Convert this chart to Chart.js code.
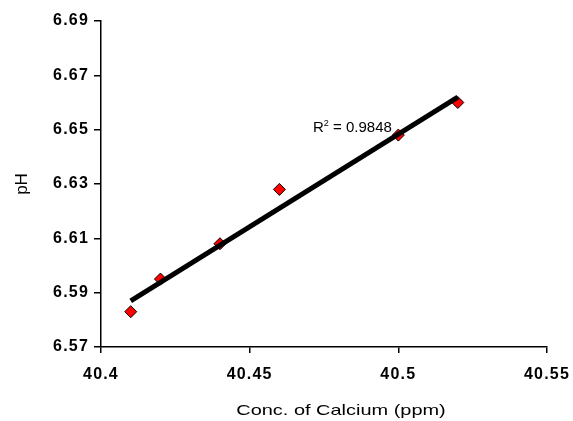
<!DOCTYPE html>
<html>
<head>
<meta charset="utf-8">
<script src="https://cdn.jsdelivr.net/npm/chart.js@4"></script>
<style>
  body { margin: 0; background: #fff; }
</style>
</head>
<body>
<canvas id="chart" width="573" height="421"></canvas>
<script>
const calcium = [40.41, 40.42, 40.44, 40.46, 40.50, 40.52];
const ph = [6.583, 6.595, 6.608, 6.628, 6.648, 6.660];
// trendline ends as drawn in the picture
const trendX = [40.41, 40.52];
const trendY = [6.587, 6.662];
const xTicks = [40.4, 40.45, 40.5, 40.55];
const yTicks = [6.57, 6.59, 6.61, 6.63, 6.65, 6.67, 6.69];
const rSquared = '0.9848';
const labelAt = { x: 40.4713, y: 6.6491 };

const FONT = "'Liberation Sans', Arial, sans-serif";

const annotations = {
  id: 'annotations',
  beforeDraw(chart) {
    // tick labels in the picture are spaced out a bit
    chart.ctx.letterSpacing = '1.2px';
  },
  afterDatasetsDraw(chart) {
    const { ctx, scales } = chart;
    const x = scales.x.getPixelForValue(labelAt.x);
    const y = scales.y.getPixelForValue(labelAt.y);
    ctx.save();
    ctx.letterSpacing = '0px';
    ctx.fillStyle = '#000';
    ctx.textBaseline = 'alphabetic';
    ctx.textAlign = 'left';
    ctx.font = '15px ' + FONT;
    ctx.fillText('R', x, y);
    let w = ctx.measureText('R').width;
    ctx.font = '9px ' + FONT;
    ctx.fillText('2', x + w, y - 6);
    w += ctx.measureText('2').width;
    ctx.font = '15px ' + FONT;
    ctx.fillText(' = ' + rSquared, x + w, y);
    ctx.restore();
  },
  afterDraw(chart) {
    const { ctx } = chart;
    ctx.save();
    ctx.letterSpacing = '0px';
    ctx.fillStyle = '#000';
    ctx.textAlign = 'center';
    ctx.textBaseline = 'middle';
    ctx.font = '15px ' + FONT;
    ctx.save();
    ctx.translate(341, 411);
    ctx.scale(1.33, 1);
    ctx.fillText('Conc. of Calcium (ppm)', 0, 0);
    ctx.restore();
    ctx.font = '17px ' + FONT;
    ctx.translate(22, 184);
    ctx.rotate(-Math.PI / 2);
    ctx.fillText('pH', 0, 0);
    ctx.restore();
    ctx.letterSpacing = '0px';
  }
};

new Chart(document.getElementById('chart'), {
  type: 'scatter',
  data: {
    datasets: [
      {
        label: 'Trend',
        type: 'line',
        data: trendX.map((x, i) => ({ x: x, y: trendY[i] })),
        borderColor: '#000',
        borderWidth: 5,
        pointRadius: 0,
        fill: false,
        order: 0
      },
      {
        label: 'pH',
        data: calcium.map((x, i) => ({ x: x, y: ph[i] })),
        pointStyle: 'rectRot',
        pointRadius: 6,
        pointBackgroundColor: '#ff0000',
        pointBorderColor: '#000',
        pointBorderWidth: 1,
        order: 1
      }
    ]
  },
  plugins: [annotations],
  options: {
    responsive: false,
    animation: false,
    layout: { padding: { left: 0, top: 21, right: 26, bottom: 0 } },
    plugins: {
      legend: { display: false },
      tooltip: { enabled: false }
    },
    scales: {
      x: {
        type: 'linear',
        min: 40.4,
        max: 40.55,
        afterBuildTicks: (scale) => { scale.ticks = xTicks.map(v => ({ value: v })); },
        afterFit: (scale) => {
          scale.height = 74;
          scale.paddingLeft = 0;
          scale.paddingRight = 0;
        },
        grid: { drawOnChartArea: false, drawTicks: true, tickLength: 6, color: '#000', lineWidth: 1.5 },
        border: { display: true, color: '#000', width: 1.5 },
        ticks: {
          padding: 12,
          color: '#000',
          font: { family: FONT, size: 16, weight: 'bold' },
          callback: (v) => String(parseFloat(v.toFixed(2)))
        }
      },
      y: {
        type: 'linear',
        min: 6.57,
        max: 6.69,
        afterBuildTicks: (scale) => { scale.ticks = yTicks.map(v => ({ value: v })); },
        afterFit: (scale) => { scale.width = 101; },
        grid: { drawOnChartArea: false, drawTicks: true, tickLength: 7, color: '#000', lineWidth: 1.5 },
        border: { display: true, color: '#000', width: 1.5 },
        ticks: {
          padding: 5,
          color: '#000',
          font: { family: FONT, size: 16, weight: 'bold' },
          callback: (v) => v.toFixed(2)
        }
      }
    }
  }
});
</script>
</body>
</html>
